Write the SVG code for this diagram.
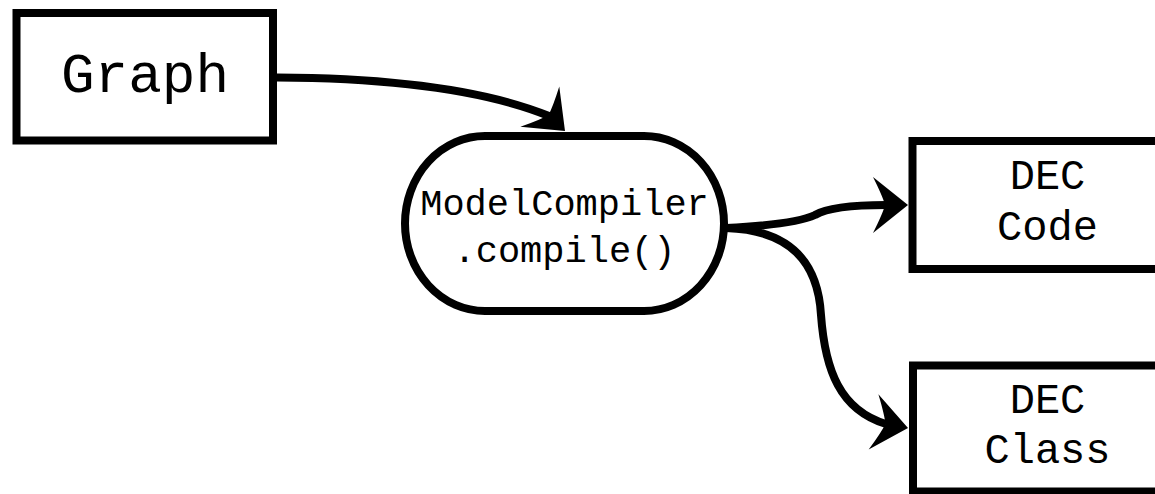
<svg xmlns="http://www.w3.org/2000/svg" width="1155" height="494" viewBox="0 0 1155 494">
  <style>
    .box { fill: #ffffff; stroke: #000000; stroke-width: 8; }
    .label { font-family: "Liberation Mono", "Courier New", monospace; fill: #000000; text-anchor: middle; }
    .edge { fill: none; stroke: #000000; stroke-width: 8; }
    .head { fill: #000000; stroke: none; }
  </style>
  <defs>
    <!-- barbed arrowhead, tip at origin pointing along +x -->
    <path id="arrowhead" d="M0,0 L-35,-28 Q-25,-8 -23,0 Q-25,8 -35,28 Z"/>
  </defs>

  <g id="connectors">
    <path class="edge" d="M277,77.5 C380,78 480,88 549,116"/>
    <use href="#arrowhead" class="head" transform="translate(565,131) rotate(44)"/>

    <path class="edge" d="M726,228 C765,226 800,222 815,215 C825,209 850,205 886,205"/>
    <use href="#arrowhead" class="head" transform="translate(908,205)"/>

    <path class="edge" d="M726,228 C790,230 818,262 821,315 C825,370 840,410 886,424"/>
    <use href="#arrowhead" class="head" transform="translate(908,428) rotate(10)"/>
  </g>

  <g id="graph">
    <rect class="box" x="16.5" y="13" width="256.5" height="127.5"/>
    <text class="label" x="145" y="92" font-size="56">Graph</text>
  </g>

  <g id="model-compiler">
    <rect class="box" x="405" y="136" width="319" height="175" rx="80" ry="87.5"/>
    <text class="label" x="564.5" y="215" font-size="37">ModelCompiler</text>
    <text class="label" x="564.5" y="262" font-size="37">.compile()</text>
  </g>

  <g id="dec-code">
    <rect class="box" x="912.5" y="141" width="270" height="128"/>
    <text class="label" x="1047.5" y="189" font-size="42">DEC</text>
    <text class="label" x="1047.5" y="240" font-size="42">Code</text>
  </g>

  <g id="dec-class">
    <rect class="box" x="913" y="365.5" width="270" height="126"/>
    <text class="label" x="1047.5" y="413" font-size="42">DEC</text>
    <text class="label" x="1047.5" y="463" font-size="42">Class</text>
  </g>
</svg>
